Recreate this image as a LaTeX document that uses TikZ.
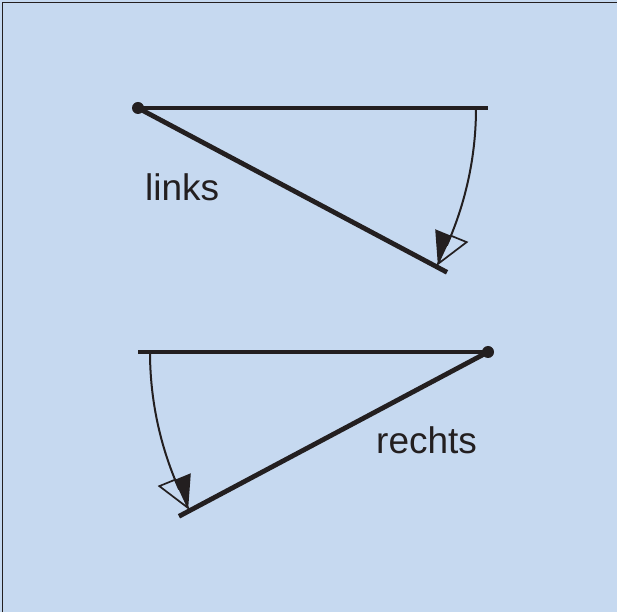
\documentclass[tikz,border=0pt]{standalone}
\usepackage{fontspec}
\setmainfont{Liberation Sans}
\usetikzlibrary{calc}
\definecolor{bg}{HTML}{C6D9F0}
\definecolor{ink}{HTML}{231F20}
\tikzset{
  x=1pt,y=1pt,
  thick line/.style={ink,line width=4.8pt},
  swing/.style={ink,line width=2pt},
  pivotdot/.style={circle,fill=ink,inner sep=0pt,minimum size=12pt},
  lbl/.style={font=\fontsize{37}{44}\selectfont,text=ink,inner sep=0pt,anchor=base west},
  halfopen/.style={ink,line width=1.7pt,line join=miter},
}
\begin{document}
\begin{tikzpicture}
\useasboundingbox (0,0) rectangle (617,612);
\fill[bg] (0,0) rectangle (617,612);
\coordinate (tl) at (2.5,609.5);
\coordinate (tr) at (617,609.5);
\coordinate (bl) at (2.5,0);
\draw[ink,line width=1.5pt] (bl) -- (tl) -- (tr);

% top figure (links)
\coordinate (P1) at (138,504);
\coordinate (H1) at (488,504);
\coordinate (D1) at ($(P1)+(-28:350)$);
\draw[thick line] (P1) -- (H1);
\draw[thick line] (P1) -- (D1);
\node[pivotdot] (p1) at (P1) {};
\coordinate (T1) at ($(P1)+(-27.5:338)$);
\coordinate (M1) at ($(P1)+(-22.2:338)$);
\coordinate (I1) at ($(P1)+(-22.2:321)$);
\coordinate (O1) at ($(P1)+(-22.2:355)$);
\draw[swing] ($(P1)+(0:338)$) arc[start angle=0,end angle=-24,radius=338];
\fill[ink] (T1) -- (M1) -- (I1) -- cycle;
\draw[halfopen] (T1) -- (O1) -- (M1) -- cycle;
\node[lbl] (links) at (145,411.5) {links};

% bottom figure (rechts)
\coordinate (P2) at (488,260);
\coordinate (H2) at (138,260);
\coordinate (D2) at ($(P2)+(208:350)$);
\draw[thick line] (P2) -- (H2);
\draw[thick line] (P2) -- (D2);
\node[pivotdot] (p2) at (P2) {};
\coordinate (T2) at ($(P2)+(207.5:338)$);
\coordinate (M2) at ($(P2)+(202.2:338)$);
\coordinate (I2) at ($(P2)+(202.2:321)$);
\coordinate (O2) at ($(P2)+(202.2:355)$);
\draw[swing] ($(P2)+(180:338)$) arc[start angle=180,end angle=204,radius=338];
\fill[ink] (T2) -- (M2) -- (I2) -- cycle;
\draw[halfopen] (T2) -- (O2) -- (M2) -- cycle;
\node[lbl] (rechts) at (376,158) {rechts};
\end{tikzpicture}
\end{document}
